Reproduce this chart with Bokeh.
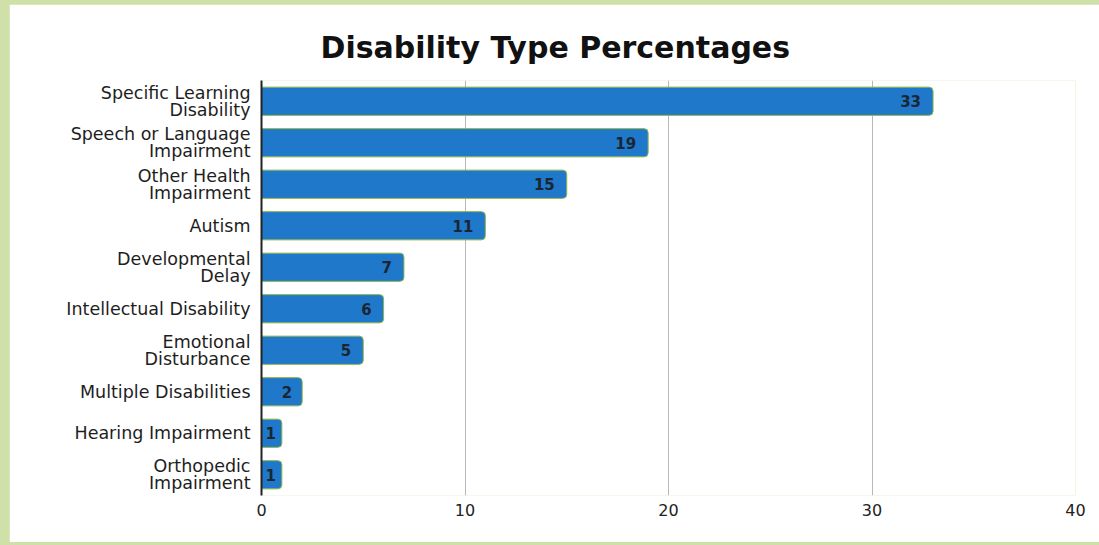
from bokeh.plotting import figure
from bokeh.models import ColumnDataSource, FactorRange, FixedTicker, Range1d
from bokeh.layouts import column
from bokeh.core.properties import value
from bokeh.embed import file_html
from bokeh.resources import INLINE

categories = [
    "Specific Learning\nDisability",
    "Speech or Language\nImpairment",
    "Other Health\nImpairment",
    "Autism",
    "Developmental\nDelay",
    "Intellectual Disability",
    "Emotional\nDisturbance",
    "Multiple Disabilities",
    "Hearing Impairment",
    "Orthopedic\nImpairment",
]
percentages = [33, 19, 15, 11, 7, 6, 5, 2, 1, 1]
x_ticks = [0, 10, 20, 30, 40]

FONT = "DejaVu Sans"

# label inset inside each bar (pixels), smaller for very short bars
label_offsets = [-12 if v >= 5 else (-10 if v >= 2 else -6) for v in percentages]

source = ColumnDataSource(dict(
    cat=categories,
    val=percentages,
    lbl=[str(v) for v in percentages],
    off=label_offsets,
))

p = figure(
    width=1090, height=538,
    y_range=FactorRange(factors=list(reversed(categories))),
    x_range=Range1d(0, 40),
    output_backend="svg", toolbar_location=None,
    min_border_left=252, min_border_right=24,
    min_border_top=76, min_border_bottom=47,
    title="Disability Type Percentages",
)
p.margin = (12, 0, 3, 17)
p.outline_line_color = None
p.background_fill_color = "white"
p.border_fill_color = "white"

p.title.text_font = FONT
p.title.text_font_size = "30px"
p.title.text_font_style = "bold"
p.title.text_color = "#111111"
p.title.align = "left"
p.title.offset = 59
p.title.standoff = 32

p.hbar(y="cat", right="val", left=0, height=0.68, source=source,
       fill_color="#1f78c9", line_color="#8db54c", line_width=1,
       border_radius=(0, 4, 4, 0))

p.text(x="val", y="cat", text="lbl", source=source,
       x_offset="off", text_align="right", text_baseline="middle",
       text_font=value(FONT), text_font_style="bold",
       text_font_size="15px", text_color="#1b2633")

# grids
p.ygrid.grid_line_color = None
p.xgrid.grid_line_color = "#b8b8b8"
p.xgrid.grid_line_width = 1
p.xaxis.ticker = FixedTicker(ticks=x_ticks)

# x axis
p.xaxis.axis_line_color = None
p.xaxis.major_tick_line_color = None
p.xaxis.minor_tick_line_color = None
p.xaxis.major_tick_out = 0
p.xaxis.major_tick_in = 0
p.xaxis.major_label_standoff = 8
p.xaxis.major_label_text_font = FONT
p.xaxis.major_label_text_font_size = "16px"
p.xaxis.major_label_text_color = "#222222"

# y axis
p.yaxis.axis_line_color = "#222222"
p.yaxis.axis_line_width = 2
p.yaxis.major_tick_line_color = None
p.yaxis.minor_tick_line_color = None
p.yaxis.major_tick_out = 0
p.yaxis.major_tick_in = 0
p.yaxis.major_label_standoff = 11
p.yaxis.major_label_text_font = FONT
p.yaxis.major_label_text_font_size = "17.5px"
p.yaxis.major_label_text_color = "#1e1e1e"
p.yaxis.major_label_text_line_height = 0.86

layout = column(p, styles={
    "margin": "-8px 0 0 -8px",
    "background-color": "#cfe0a8",
})

open("out.html", "w").write(file_html(layout, INLINE))
